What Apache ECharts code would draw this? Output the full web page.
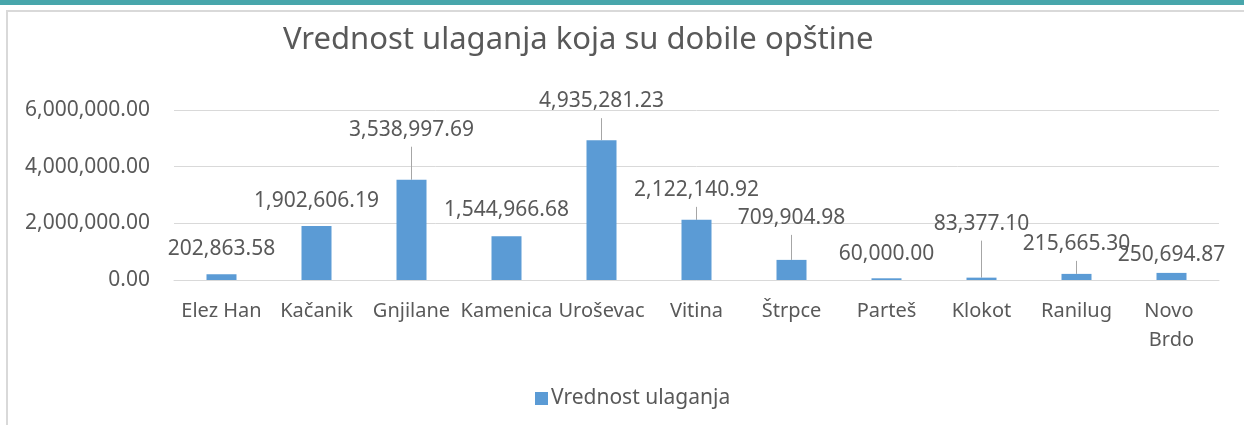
<!DOCTYPE html>
<html>
<head>
<meta charset="utf-8">
<script src="https://cdn.jsdelivr.net/npm/echarts@6/dist/echarts.min.js"></script>
<style>
  html, body { margin: 0; padding: 0; background: #fff; overflow: hidden; }
  .topbar { position: absolute; left: 0; top: 0; width: 1244px; height: 5px; background: #48a6ab; }
  .frame { position: absolute; left: 6px; top: 10px; width: 1260px; height: 440px; border: 2px solid #d9d9d9; }
  #chart { position: absolute; left: 0; top: 0; width: 1244px; height: 425px; }
</style>
</head>
<body>
<div class="topbar"></div>
<div class="frame"></div>
<div id="chart"></div>
<script>
const categories = ['Elez Han', 'Kačanik', 'Gnjilane', 'Kamenica', 'Uroševac', 'Vitina', 'Štrpce', 'Parteš', 'Klokot', 'Ranilug', 'Novo Brdo'];
const values = [202863.58, 1902606.19, 3538997.69, 1544966.68, 4935281.23, 2122140.92, 709904.98, 60000.00, 83377.10, 215665.30, 250694.87];
const seriesName = 'Vrednost ulaganja';
const titleText = 'Vrednost ulaganja koja su dobile opštine';

// labels were dragged by hand in the original, shift in px + whether a leader line shows
const labelShift = [0, 0, -25, -1, -14, -5, -17, 1, -29, -5, 7];
const hasLeader = [false, false, true, false, true, true, true, false, true, true, false];

const FONT = 'Noto Sans';
const TEXT = '#595959';
const fmt = (v) => Number(v).toLocaleString('en-US', { minimumFractionDigits: 2, maximumFractionDigits: 2 });

const chart = echarts.init(document.getElementById('chart'));
chart.setOption({
  animation: false,
  textStyle: { fontFamily: FONT, color: TEXT },
  title: {
    text: titleText,
    left: 278,
    top: 20,
    textStyle: { fontFamily: FONT, fontSize: 31, fontWeight: 'normal', color: TEXT },
  },
  legend: {
    data: [seriesName],
    left: 530,
    top: 383,
    icon: 'rect',
    itemWidth: 13,
    itemHeight: 13,
    textStyle: { fontFamily: FONT, fontSize: 21, color: TEXT, padding: [0, 0, 0, -2] },
  },
  grid: {
    left: 174,
    right: 25,
    top: 110,
    bottom: 145,
  },
  xAxis: {
    type: 'category',
    data: categories,
    axisTick: { show: false },
    axisLine: { lineStyle: { color: '#d9d9d9', width: 1 } },
    axisLabel: {
      interval: 0,
      margin: 17,
      fontFamily: FONT,
      fontSize: 20,
      lineHeight: 29,
      color: TEXT,
      width: 98,
      overflow: 'break',
    },
  },
  yAxis: {
    type: 'value',
    min: 0,
    max: 6000000,
    interval: 2000000,
    axisLine: { show: false },
    axisTick: { show: false },
    splitLine: { lineStyle: { color: '#d9d9d9', width: 1 } },
    axisLabel: {
      margin: 24,
      fontFamily: FONT,
      fontSize: 21,
      color: TEXT,
      formatter: fmt,
    },
  },
  series: [
    {
      name: seriesName,
      type: 'bar',
      barWidth: 30,
      itemStyle: { color: '#5b9bd5' },
      data: values.map((v, i) => ({
        value: v,
        labelLine: { show: hasLeader[i] },
      })),
      label: {
        show: true,
        position: 'top',
        distance: 8,
        padding: [0, 0, 5, 0],
        fontFamily: FONT,
        fontSize: 21,
        lineHeight: 24,
        color: TEXT,
        formatter: (p) => fmt(p.value),
      },
      labelLine: {
        show: true,
        lineStyle: { color: '#a6a6a6', width: 1 },
      },
      labelLayout: (params) => ({ dy: labelShift[params.dataIndex] }),
    },
  ],
});
</script>
</body>
</html>
